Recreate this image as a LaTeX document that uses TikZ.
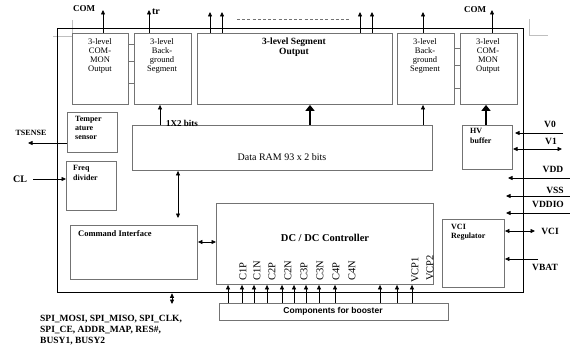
\documentclass[tikz,border=0pt]{standalone}
\usepackage{fontspec}
\setmainfont{Liberation Serif}
\newfontfamily\sansf{Liberation Sans}
\usetikzlibrary{arrows.meta}
\begin{document}
\begin{tikzpicture}[x=1pt,y=-1pt,
 blk/.style={draw=black!55, line width=0.9pt, anchor=north west, inner sep=0},
 tx/.style={inner sep=0, align=center, font=\fontsize{8.5}{9}\selectfont},
 btx/.style={inner sep=0, align=left, font=\bfseries\fontsize{8}{9}\selectfont},
 pin/.style={font=\bfseries\fontsize{9.5}{10}\selectfont, inner sep=0},
 arr/.style={-{Triangle[length=4.5pt,width=4pt]}, line width=0.7pt},
 darr/.style={{Triangle[length=4.5pt,width=4pt]}-{Triangle[length=4.5pt,width=4pt]}, line width=0.7pt},
 thk/.style={-{Triangle[length=6pt,width=9pt]}, line width=2.6pt},
 rot/.style={rotate=90, anchor=west, inner sep=0, font=\fontsize{10.5}{11}\selectfont},
]
\useasboundingbox (0,0) rectangle (570,350);
% crop-mark artifacts
\draw[black!25, line width=0.5pt] (72,20) -- (72,36) (53,36) -- (72,36);
\draw[black!25, line width=0.5pt] (529,19) -- (529,35) -- (548,35);
% main box
\node[draw, line width=1.3pt, anchor=north west, minimum width=466pt, minimum height=264pt, inner sep=0] (main) at (57,28) {};
% blocks
\node[blk, minimum width=56pt, minimum height=71pt] (comL) at (72,33) {};
\node[blk, minimum width=57pt, minimum height=71pt] (bgL) at (134,33) {};
\node[blk, minimum width=195pt, minimum height=71pt] (seg) at (197,33) {};
\node[blk, minimum width=57pt, minimum height=71pt] (bgR) at (397,33) {};
\node[blk, minimum width=57pt, minimum height=71pt] (comR) at (460,33) {};
\node[blk, minimum width=50pt, minimum height=40pt] (temp) at (67,112) {};
\node[blk, minimum width=50pt, minimum height=49pt] (freq) at (66,161) {};
\node[blk, minimum width=300pt, minimum height=45pt] (ram) at (132,125) {};
\node[blk, minimum width=50pt, minimum height=44pt] (hv) at (462,125) {};
\node[blk, minimum width=127pt, minimum height=54pt] (ci) at (70,225) {};
\node[blk, minimum width=217pt, minimum height=81pt] (dc) at (216,203) {};
\node[blk, minimum width=62pt, minimum height=68pt] (vci) at (442,219) {};
\node[blk, minimum width=229pt, minimum height=17pt] (comp) at (219,303) {};
% block texts
\node[tx, anchor=north] (comLt) at (100,38) {3-level\\COM-\\MON\\Output};
\node[tx, anchor=north] (bgLt) at (162,38) {3-level\\Back-\\ground\\Segment};
\node[tx, anchor=north] (bgRt) at (425,38) {3-level\\Back-\\ground\\Segment};
\node[tx, anchor=north] (comRt) at (488,38) {3-level\\COM-\\MON\\Output};
\node[inner sep=0, align=center, font=\bfseries\fontsize{9.5}{10}\selectfont, anchor=north] (segt) at (294,38) {3-level Segment\\Output};
\node[btx, anchor=north west] (tempt) at (75,116) {Temper\\ature\\sensor};
\node[btx, anchor=north west, font=\bfseries\fontsize{8}{10}\selectfont] (freqt) at (73,165) {Freq\\divider};
\node[inner sep=0, font=\fontsize{10}{11}\selectfont] (ramt) at (282,157) {Data RAM 93 x 2 bits};
\node[inner sep=0, anchor=west, font=\bfseries\fontsize{9}{10}\selectfont] (bits) at (166,123) {1X2 bits};
\node[btx, anchor=north west, font=\bfseries\fontsize{8}{10}\selectfont] (hvt) at (470,128) {HV\\buffer};
\node[btx, anchor=west, font=\bfseries\fontsize{8.5}{10}\selectfont] (cit) at (78,234) {Command Interface};
\node[inner sep=0, font=\bfseries\fontsize{10.5}{12}\selectfont] (dct) at (325,238) {DC / DC Controller};
\node[btx, anchor=north west] (vcit) at (451,224) {VCI\\Regulator};
\node[inner sep=0, font=\sansf\bfseries\fontsize{8.5}{9}\selectfont] (compt) at (333,311) {Components for booster};
% rotated pin labels of DC/DC
\node[rot] (c1p) at (243,281) {C1P};
\node[rot] (c1n) at (257,281) {C1N};
\node[rot] (c2p) at (272,281) {C2P};
\node[rot] (c2n) at (288,281) {C2N};
\node[rot] (c3p) at (304,281) {C3P};
\node[rot] (c3n) at (320,281) {C3N};
\node[rot] (c4p) at (336,281) {C4P};
\node[rot] (c4n) at (352,281) {C4N};
\node[rot] (vcp1) at (415,283) {VCP1};
\node[rot] (vcp2) at (430,281) {VCP2};
% booster arrows
\foreach \x in {228,242,254,267,282,294,306,319,335,380,397,412}
  \draw[arr] (\x,0 |- comp.north) -- (\x,0 |- dc.south);
% ticks between output blocks
\foreach \y in {44,61,83} \draw[black!55, line width=0.7pt] (comL.east |- 0,\y) -- (bgL.west |- 0,\y);
\foreach \y in {48,65,88} \draw[black!55, line width=0.7pt] (bgR.east |- 0,\y) -- (comR.west |- 0,\y);
% top outputs
\coordinate (comLo) at (103,10);
\coordinate (tro) at (149,10);
\coordinate (s1) at (210,12);
\coordinate (s2) at (222,12);
\coordinate (s3) at (360,12);
\coordinate (s4) at (372,12);
\coordinate (bgRo) at (423,12);
\coordinate (comRo) at (492,10);
\draw[arr] (comLo |- comL.north) -- (comLo);
\draw[arr] (tro |- bgL.north) -- (tro);
\foreach \c in {s1,s2,s3,s4} \draw[arr] (\c |- seg.north) -- (\c);
\draw[arr] (bgRo |- bgR.north) -- (bgRo);
\draw[arr] (comRo |- comR.north) -- (comRo);
\coordinate (dA) at (237,19);
\coordinate (dB) at (350,19);
\draw[black!55, dashed, dash pattern=on 3pt off 2.2pt, line width=0.7pt] (dA) -- (dB);
\node[pin, font=\bfseries\fontsize{9}{10}\selectfont] (comLl) at (84,9) {COM};
\node[pin, font=\bfseries\fontsize{10}{10}\selectfont] (trl) at (156,12) {tr};
\node[pin, font=\bfseries\fontsize{9}{10}\selectfont] (comRl) at (475,10) {COM};
% internal arrows
\draw[thk] (310,0 |- ram.north) -- (310,0 |- seg.south);
\draw[thk] (486,0 |- hv.north) -- (486,0 |- comR.south);
\draw[arr] (160,0 |- ram.north) -- (160,0 |- bgL.south);
\draw[arr] (423,0 |- ram.north) -- (423,0 |- bgR.south);
\coordinate (ciTop) at (178,218);
\draw[darr] (ciTop |- ram.south) -- (ciTop);
\draw[darr] (ci.east |- 0,242) -- (dc.west |- 0,242);
% left pins
\coordinate (tse) at (28,143);
\draw[arr] (temp.west |- tse) -- (tse);
\node[pin, font=\bfseries\fontsize{8}{9}\selectfont] (tsl) at (31,133) {TSENSE};
\coordinate (cls) at (33,179);
\draw[arr] (cls) -- (freq.west |- cls);
\node[pin, font=\bfseries\fontsize{10}{10}\selectfont] (cll) at (20,179) {CL};
% bottom interface
\coordinate (spi) at (172,304);
\draw[darr] (spi) -- (spi |- main.south);
\node[inner sep=0, anchor=north west, align=left, font=\bfseries\fontsize{9.5}{10.8}\selectfont] (spil) at (40,315)
 {SPI\_MOSI, SPI\_MISO, SPI\_CLK,\\SPI\_CE, ADDR\_MAP, RES\#,\\BUSY1, BUSY2};
% right pins
\coordinate (v0o) at (563,133); \coordinate (v0i) at (515,133);
\draw[arr] (v0o) -- (v0i);
\node[pin] (v0l) at (550,124) {V0};
\coordinate (v1o) at (562,149); \coordinate (v1i) at (513,149);
\draw[darr] (v1i) -- (v1o);
\node[pin] (v1l) at (551,141) {V1};
\coordinate (vddo) at (570,178); \coordinate (vddi) at (508,178);
\draw[arr] (vddo) -- (vddi);
\node[pin] (vddl) at (553,169) {VDD};
\coordinate (vsso) at (570,196); \coordinate (vssi) at (506,196);
\draw[arr] (vsso) -- (vssi);
\node[pin] (vssl) at (555,190) {VSS};
\coordinate (vdio) at (570,213); \coordinate (vdii) at (506,213);
\draw[arr] (vdio) -- (vdii);
\node[pin] (vdiol) at (548,204) {VDDIO};
\coordinate (vcio) at (535,231);
\draw[darr] (vci.east |- vcio) -- (vcio);
\node[pin] (vcil) at (550,231) {VCI};
\coordinate (vbo) at (538,259);
\draw[arr] (vbo) -- (vci.east |- vbo);
\node[pin] (vbl) at (545,267) {VBAT};
\end{tikzpicture}
\end{document}
